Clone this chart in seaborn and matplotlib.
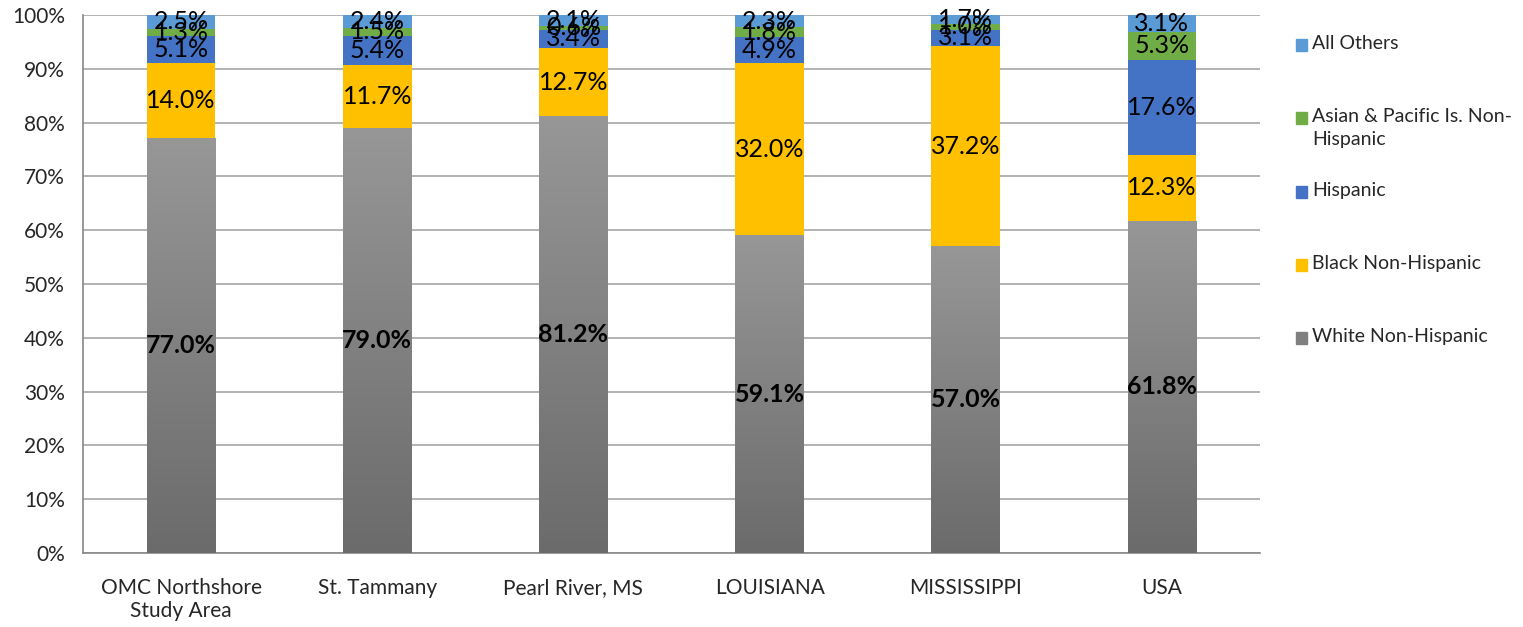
import numpy as np
import pandas as pd
import matplotlib
matplotlib.use("Agg")
import matplotlib.pyplot as plt
import seaborn as sns
from matplotlib.patches import Rectangle
from matplotlib.ticker import PercentFormatter

sns.set_style("white")
plt.rcParams["font.family"] = ["Lato", "DejaVu Sans"]

regions = ["OMC Northshore\nStudy Area", "St. Tammany", "Pearl River, MS",
           "LOUISIANA", "MISSISSIPPI", "USA"]
white = [77.0, 79.0, 81.2, 59.1, 57.0, 61.8]
black = [14.0, 11.7, 12.7, 32.0, 37.2, 12.3]
hispanic = [5.1, 5.4, 3.4, 4.9, 3.1, 17.6]
asian = [1.3, 1.5, 0.6, 1.8, 1.0, 5.3]
others = [2.5, 2.4, 2.1, 2.3, 1.7, 3.1]

series_names = ["White Non-Hispanic", "Black Non-Hispanic", "Hispanic",
                "Asian & Pacific Is. Non-Hispanic", "All Others"]
legend_names = ["White Non-Hispanic", "Black Non-Hispanic", "Hispanic",
                "Asian & Pacific Is. Non-\nHispanic", "All Others"]
colors = ["#808080", "#FFC000", "#4472C4", "#70AD47", "#5B9BD5"]

df = pd.DataFrame({"region": regions, "White Non-Hispanic": white,
                   "Black Non-Hispanic": black, "Hispanic": hispanic,
                   "Asian & Pacific Is. Non-Hispanic": asian, "All Others": others})
totals = df[series_names].sum(axis=1)
share = df[series_names].div(totals, axis=0)

fig = plt.figure(figsize=(15.23, 6.27), dpi=100)
ax = fig.add_axes([0.0545, 0.118, 0.7728, 0.858])

gray_cmap = matplotlib.colors.LinearSegmentedColormap.from_list("g", ["#6b6b6b", "#979797"])

bottom = np.zeros(len(regions))
for i, name in enumerate(series_names):
    n_before = len(ax.patches)
    sns.barplot(x=df["region"], y=share[name], bottom=bottom, color=colors[i],
                width=0.35, saturation=1, linewidth=0, ax=ax, zorder=3)
    bars = ax.patches[n_before:]
    for j, bar in enumerate(bars):
        if i == 0:
            # vertical gray gradient like the original
            x0, w = bar.get_x(), bar.get_width()
            grad = np.linspace(0, 1, 256).reshape(-1, 1)
            im = ax.imshow(grad, cmap=gray_cmap, aspect="auto", origin="lower",
                           extent=[x0, x0 + w, 0, bar.get_height()], zorder=3.5)
            im.set_clip_path(bar)
        ycen = bottom[j] + share[name].iloc[j] / 2
        ax.text(j, ycen, f"{df[name].iloc[j]:.1f}%", ha="center", va="center",
                fontsize=18, fontweight="bold" if i == 0 else "normal",
                color="black", zorder=5)
    bottom = bottom + share[name].values

ax.set_xlim(-0.5, len(regions) - 0.5)
ax.set_ylim(0, 1)
ax.set_yticks(np.arange(0, 1.01, 0.1))
ax.yaxis.set_major_formatter(PercentFormatter(1.0, decimals=0))
ax.set_xlabel("")
ax.set_ylabel("")
ax.grid(axis="y", color="#a6a6a6", linewidth=1.2, zorder=0)
ax.set_axisbelow(True)
for side in ["top", "right"]:
    ax.spines[side].set_visible(False)
for side in ["left", "bottom"]:
    ax.spines[side].set_color("#888888")
    ax.spines[side].set_linewidth(1.2)
ax.tick_params(axis="y", length=7, width=1.2, color="#888888", labelsize=15, pad=6)
ax.tick_params(axis="x", which="major", length=0, labelsize=15, pad=18)
ax.set_xticks(np.arange(-0.5, len(regions)), minor=True)
ax.tick_params(axis="x", which="minor", length=6, width=1.2, color="#888888")

# legend on the right, top to bottom in reverse stack order
legend_y = [45, 118, 192, 265, 338]
for k, idx in enumerate(range(len(series_names) - 1, -1, -1)):
    yf = 1 - legend_y[k] / 627
    fig.patches.append(Rectangle((1296 / 1523, yf - 6 / 627), 11 / 1523, 12 / 627,
                                 transform=fig.transFigure, color=colors[idx]))
    fig.text(1312 / 1523, yf + 10 / 627, legend_names[idx], ha="left", va="top",
             fontsize=14, linespacing=1.45)

fig.savefig("out.png", dpi=100)
